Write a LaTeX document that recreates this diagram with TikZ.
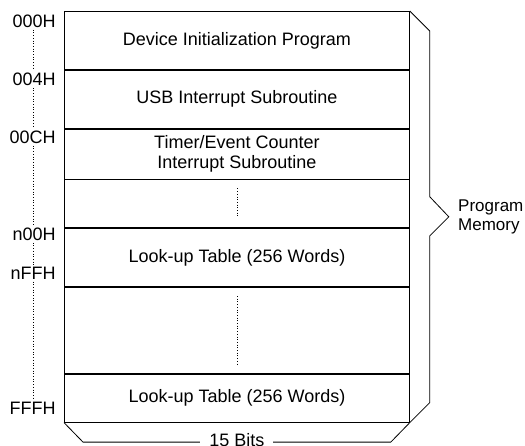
\documentclass[tikz,border=0pt]{standalone}
\usepackage{fontspec}
\setmainfont{Liberation Sans}
\usetikzlibrary{positioning,calc}
\tikzstyle{cell}=[
	 draw, rectangle,
	 minimum width=345pt, inner sep=0pt,
	 align=center
    ]
\tikzstyle{addr}=[anchor=east, inner sep=2pt]
\tikzstyle{gap}=[dotted, line width=0.7pt]
\newcommand{\addrgap}[2]{\draw[gap] (#1.south -| dx) -- (#2.north -| dx)}

\begin{document}
\begin{tikzpicture}[x=1pt,y=-1pt,line width=0.8pt,font=\fontsize{18}{20}\selectfont]
\useasboundingbox (0,0) rectangle (525,445);

\node[cell,minimum height=58pt,anchor=north west] (R1) at (64,11) {Device Initialization Program};
\node[cell,minimum height=58pt,below=0pt of R1] (R2) {USB Interrupt Subroutine};
\node[cell,minimum height=50pt,below=0pt of R2] (R3) {Timer/Event Counter\\Interrupt Subroutine};
\node[cell,minimum height=48pt,below=0pt of R3] (R4) {};
\node[cell,minimum height=58pt,below=0pt of R4] (R5) {Look-up Table (256 Words)};
\node[cell,minimum height=86pt,below=0pt of R5] (R6) {};
\node[cell,minimum height=48pt,below=0pt of R6] (R7) {Look-up Table (256 Words)};

\draw[gap] ([yshift=-9pt]R4.north) -- ([yshift=11pt]R4.south);
\draw[gap] ([yshift=-9pt]R6.north) -- ([yshift=10pt]R6.south);

% addresses
\coordinate (dx) at (33,0);
\node[addr] (A0) at (58,21) {000H};
\node[addr] (A1) at (58,79) {004H};
\node[addr] (A2) at (58,137) {00CH};
\node[addr] (A3) at (58,234) {n00H};
\node[addr] (A4) at (58,273) {nFFH};
\node[addr] (A5) at (58,408) {FFFH};

\addrgap{A0}{A1};
\addrgap{A1}{A2};
\addrgap{A2}{A3};
\addrgap{A3}{A4};
\addrgap{A4}{A5};

% program memory brace
\coordinate (tip) at ($(R1.north east)!0.5!(R7.south east)+(39,0)$);
\draw (R1.north east) -- ++(20,20) -- ($(tip)+(-19,-20)$) -- (tip)
  -- ($(tip)+(-19,19)$) -- ($(R7.south east)+(20,-20)$) -- (R7.south east);
\node[anchor=west,align=left,inner sep=0pt,font=\fontsize{17}{19}\selectfont] (PM) at ([xshift=9pt]tip) {Program\\Memory};

% width bracket
\draw (R7.south west) -- ++(19,19.5) -- ($(R7.south east)+(-19,19.5)$) -- (R7.south east);
\node[fill=white,inner xsep=9pt,inner ysep=0pt] (W) at ($(R7.south)+(0,17)$) {15 Bits};

\end{tikzpicture}
\end{document}
